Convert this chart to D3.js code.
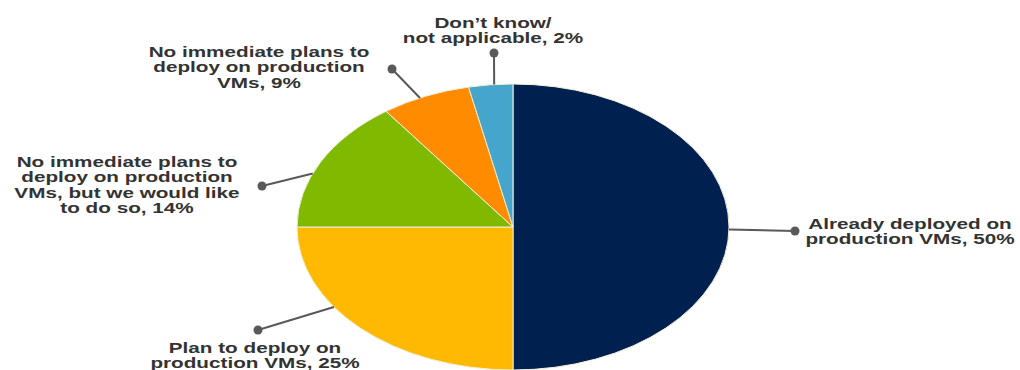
<!DOCTYPE html>
<html>
<head>
<meta charset="utf-8">
<script src="https://cdn.jsdelivr.net/npm/d3@7"></script>
<style>
  body { margin: 0; background: #fff; }
  text { font-family: "Liberation Sans", Arial, sans-serif; font-weight: 700; fill: #333; }
</style>
</head>
<body>
<div id="chart"></div>
<script>
// slices clockwise from 12 o'clock, shares as drawn in the picture
const categories = ["Already deployed", "Plan to deploy", "Would like to", "No immediate plans", "Don't know"];
const shares = [50, 25, 15, 6.7, 3.3];
const colors = ["#002050", "#ffb900", "#7fba00", "#ff8c00", "#45a5cc"];
const labels = [
    ["Already deployed on", "production VMs, 50%"],
    ["Plan to deploy on", "production VMs, 25%"],
    ["No immediate plans to", "deploy on production", "VMs, but we would like", "to do so, 14%"],
    ["No immediate plans to", "deploy on production", "VMs, 9%"],
    ["Don\u2019t know/", "not applicable, 2%"]
];

window.onload = function () {
    const w = 1020;
    const h = 370;
    const cx = 513, cy = 227;
    const rx = 216, ry = 143;
    const lineH = 15.5;

    // where each leader touches the pie (degrees clockwise from top), dot and label anchor
    const leaders = [
        { angle: 91, dot: [795, 231], text: [910, 229] },
        { angle: 236, dot: [258, 330], text: [255, 353] },
        { angle: 292, dot: [262, 186], text: [127, 167] },
        { angle: 334.5, dot: [392, 69], text: [259, 57] },
        { angle: 355, dot: [494, 53], text: [493, 28] }
    ];

    const svg = d3.select("#chart")
        .append("svg")
        .attr("width", w)
        .attr("height", h);

    const pie = d3.pie().sort(null).value(d => d);
    const arc = d3.arc().innerRadius(0).outerRadius(ry);

    const g = svg.append("g")
        .attr("transform", `translate(${cx},${cy}) scale(${rx / ry},1)`);

    g.selectAll("path")
        .data(pie(shares))
        .enter()
        .append("path")
        .attr("d", arc)
        .attr("fill", (d, i) => colors[i])
        .attr("stroke", "#f3eed6")
        .attr("stroke-width", 1)
        .attr("vector-effect", "non-scaling-stroke");

    const edge = a => {
        const t = a * Math.PI / 180;
        return [cx + rx * Math.sin(t), cy - ry * Math.cos(t)];
    };

    svg.selectAll("line.leader")
        .data(leaders)
        .enter()
        .append("line")
        .attr("class", "leader")
        .attr("x1", d => edge(d.angle)[0])
        .attr("y1", d => edge(d.angle)[1])
        .attr("x2", d => d.dot[0])
        .attr("y2", d => d.dot[1])
        .attr("stroke", "#595959")
        .attr("stroke-width", 2);

    svg.selectAll("circle.dot")
        .data(leaders)
        .enter()
        .append("circle")
        .attr("class", "dot")
        .attr("cx", d => d.dot[0])
        .attr("cy", d => d.dot[1])
        .attr("r", 4.5)
        .attr("fill", "#595959");

    // one text per label, lines as tspans
    const lab = svg.selectAll("text.label")
        .data(leaders)
        .enter()
        .append("text")
        .attr("class", "label")
        .attr("transform", d => `translate(${d.text[0]},${d.text[1]}) scale(1.5,1)`)
        .attr("text-anchor", "middle")
        .attr("font-size", "13.8px");

    lab.selectAll("tspan")
        .data((d, i) => labels[i])
        .enter()
        .append("tspan")
        .attr("x", 0)
        .attr("y", (d, i) => i * lineH)
        .text(d => d);
};
</script>
</body>
</html>
